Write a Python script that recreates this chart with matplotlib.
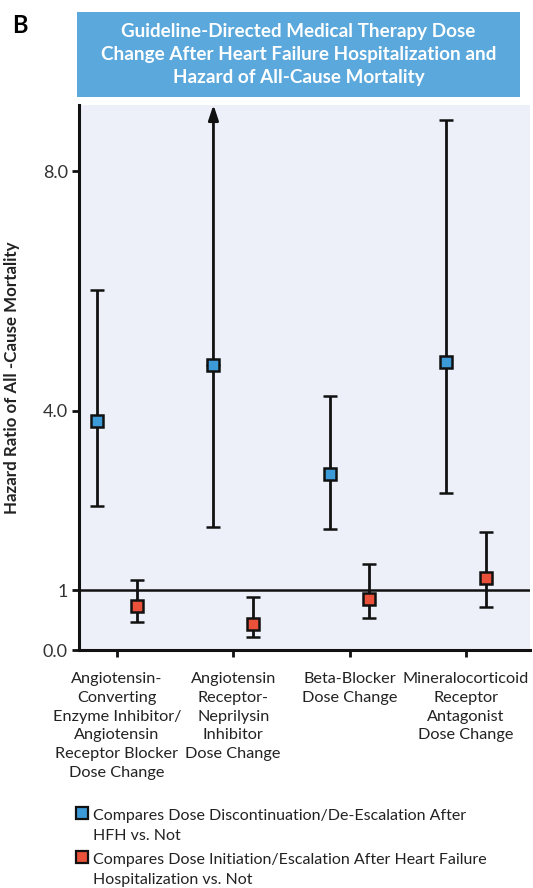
import matplotlib
matplotlib.use("Agg")
import matplotlib.pyplot as plt
from matplotlib import font_manager
from matplotlib.patches import Rectangle
import numpy as np

# pick a sans close to the reference's humanist face
names = set(f.name for f in font_manager.fontManager.ttflist)
font = "DejaVu Sans"
for cand in ["Lato", "Open Sans", "Roboto"]:
  if cand in names:
    font = cand
    break
plt.rcParams['font.family'] = [font, 'DejaVu Sans']

categories = ["Angiotensin-\nConverting\nEnzyme Inhibitor/\nAngiotensin\nReceptor Blocker\nDose Change",
              "Angiotensin\nReceptor-\nNeprilysin\nInhibitor\nDose Change",
              "Beta-Blocker\nDose Change",
              "Mineralocorticoid\nReceptor\nAntagonist\nDose Change"]

# discontinuation / de-escalation (blue); ARNI upper bound runs off the chart
blue_hr = [3.82, 4.76, 2.94, 4.81]
blue_lo = [2.41, 2.06, 2.03, 2.62]
blue_hi = [6.02, np.nan, 4.25, 8.86]

# initiation / escalation (red)
red_hr = [0.74, 0.43, 0.86, 1.20]
red_lo = [0.46, 0.21, 0.54, 0.72]
red_hi = [1.17, 0.89, 1.43, 1.98]

yticks = [0.0, 1, 4.0, 8.0]
yticklabels = ["0.0", "1", "4.0", "8.0"]

legend_labels = ["Compares Dose Discontinuation/De-Escalation After\nHFH vs. Not",
                 "Compares Dose Initiation/Escalation After Heart Failure\nHospitalization vs. Not"]

title = "Guideline-Directed Medical Therapy Dose\nChange After Heart Failure Hospitalization and\nHazard of All-Cause Mortality"

blue = '#3d9ad8'
red = '#e9513a'

fig = plt.figure(figsize=(5.33, 8.88), dpi=100)
ax = fig.add_axes([0.148, 0.268, 0.846, 0.614])
ax.set_facecolor('#edf0f8')

x = np.arange(len(categories))
off = 0.17

bhr = np.array(blue_hr)
blo = np.array(blue_lo)
bhi = np.array(blue_hi)
ylim_top = 9.11
bhi_draw = np.where(np.isnan(bhi), bhr, bhi)
ax.errorbar(x - off, bhr, yerr=[bhr - blo, bhi_draw - bhr], fmt='s', color='#111111',
            mfc=blue, mec='#111111', mew=1.8, ms=9, elinewidth=2, capsize=5, capthick=2, zorder=4)
# arrow for open-ended upper bound
for i in range(len(bhi)):
  if np.isnan(bhi[i]):
    ax.annotate('', xy=(x[i] - off, ylim_top), xytext=(x[i] - off, bhr[i]),
                arrowprops=dict(arrowstyle='-|>,head_length=0.9,head_width=0.3', color='#111111', lw=2,
                                shrinkA=0, shrinkB=0), zorder=3)

rhr = np.array(red_hr)
ax.errorbar(x + off, rhr, yerr=[rhr - np.array(red_lo), np.array(red_hi) - rhr], fmt='s', color='#111111',
            mfc=red, mec='#111111', mew=1.8, ms=9, elinewidth=2, capsize=5, capthick=2, zorder=4)

ax.axhline(1, color='#111111', lw=1.8, zorder=2)

ax.set_xlim(-0.327, 3.55)
ax.set_ylim(0, ylim_top)
ax.set_yticks(yticks)
ax.set_yticklabels(yticklabels, fontsize=13, color='#333333')
ax.set_xticks(x)
ax.set_xticklabels(categories, fontsize=11.7, color='#222222', linespacing=1.43)
ax.tick_params(axis='both', width=2, length=5, color='#111111')
ax.tick_params(axis='x', pad=11)
ax.tick_params(axis='y', pad=3)
for s in ['top', 'right']:
  ax.spines[s].set_visible(False)
for s in ['left', 'bottom']:
  ax.spines[s].set_linewidth(2.2)
  ax.spines[s].set_color('#111111')
ax.set_ylabel("Hazard Ratio of All -Cause Mortality", fontsize=12.2, fontweight='bold', color='#222222')
ax.yaxis.set_label_coords(-0.131, 0.5)

# title box
fig.patches.append(Rectangle((0.1445, 0.8908), 0.831, 0.0957, transform=fig.transFigure,
                             facecolor='#5aa8dc', edgecolor='none'))
fig.text(0.56, 0.9385, title, ha='center', va='center', color='white', fontsize=13.6,
         fontweight='bold', linespacing=1.44)
fig.text(0.022, 0.971, "B", fontsize=17, fontweight='bold', va='center', ha='left')

# legend
leg_y = [0.0845, 0.0349]
for c, yy, lab in zip([blue, red], leg_y, legend_labels):
  fig.lines.append(plt.Line2D([0.153], [yy], transform=fig.transFigure, marker='s', ms=8.5,
                              mfc=c, mec='#111111', mew=1.6, ls='none'))
  fig.text(0.175, yy + 0.005, lab, fontsize=11.5, color='#222222', va='top', ha='left', linespacing=1.55)

fig.savefig('out.png', dpi=100)
